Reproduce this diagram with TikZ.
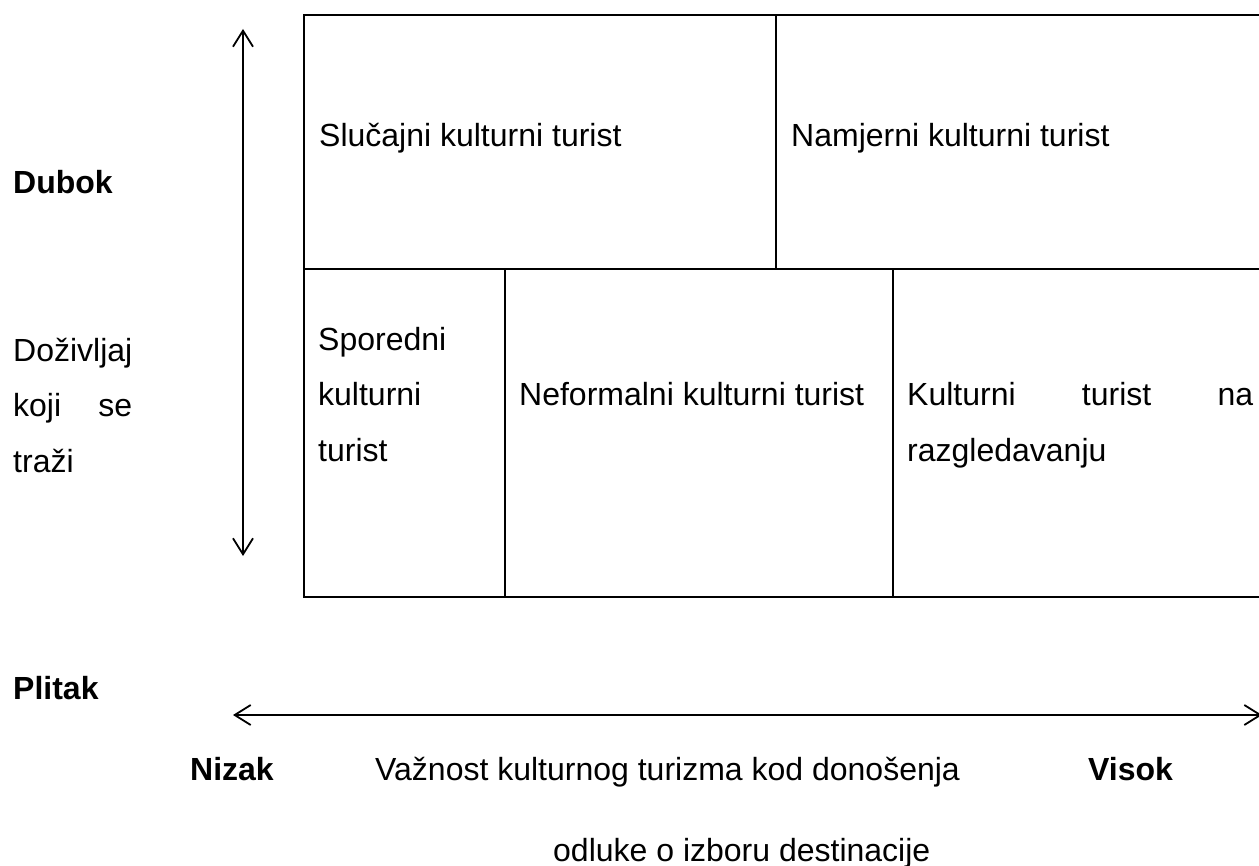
\documentclass[tikz,border=0pt]{standalone}
\usepackage{fontspec}
\setmainfont{Liberation Sans}
\usetikzlibrary{arrows.meta}
\begin{document}
\begin{tikzpicture}[x=1pt,y=-1pt,
  lbl/.style={anchor=base west,inner sep=0pt,font=\fontsize{32}{40}\selectfont},
  blbl/.style={lbl,font=\fontsize{32}{40}\selectfont\bfseries},
  grid/.style={line width=1.9pt,line cap=rect},
  axis/.style={line width=1.8pt,{Straight Barb[length=16pt,width=20pt,line width=1.8pt]}-{Straight Barb[length=16pt,width=20pt,line width=1.8pt]}}]
\useasboundingbox (0,0) rectangle (1259,866);
\clip (0,0) rectangle (1259,866);
% table
\coordinate (tl) at (304,15);
\coordinate (tr) at (1275,15);
\coordinate (ml) at (304,269);
\coordinate (mr) at (1275,269);
\coordinate (bl) at (304,597);
\coordinate (br) at (1275,597);
\draw[grid] (tr) -- (tl) -- (bl) -- (br);
\draw[grid] (ml) -- (mr);
\coordinate (d1t) at (776,15);
\coordinate (d1b) at (776,269);
\coordinate (d2t) at (505,269);
\coordinate (d2b) at (505,597);
\coordinate (d3t) at (893,269);
\coordinate (d3b) at (893,597);
\draw[grid] (d1t) -- (d1b);
\draw[grid] (d2t) -- (d2b);
\draw[grid] (d3t) -- (d3b);
% cell texts
\node[lbl] (slu) at (319,147) {Slučajni kulturni turist};
\node[lbl] (nam) at (791,147) {Namjerni kulturni turist};
\node[lbl] (sp1) at (318,351) {Sporedni};
\node[lbl] (sp2) at (318,406) {kulturni};
\node[lbl] (sp3) at (318,462) {turist};
\node[lbl] (nef) at (519,406) {Neformalni kulturni turist};
\node[lbl] (kt1) at (907,406) {\hbox to 346pt{Kulturni\hfill turist\hfill na}};
\node[lbl] (kt2) at (907,462) {razgledavanju};
% left labels
\node[blbl] (dub) at (13,194) {Dubok};
\node[lbl] (doz1) at (13,362) {Doživljaj};
\node[lbl] (doz2) at (13,417) {\hbox to 119pt{koji\hfill se}};
\node[lbl] (doz3) at (13,472) {traži};
\node[blbl] (pli) at (13,699) {Plitak};
% arrows
\coordinate (vt) at (243,29);
\coordinate (vb) at (243,556);
\draw[axis] (vb) -- (vt);
\coordinate (hl) at (233,715);
\coordinate (hr) at (1262,715);
\draw[axis] (hr) -- (hl);
% bottom labels
\node[blbl] (niz) at (190,780) {Nizak};
\node[lbl] (vaz) at (375,780) {Važnost kulturnog turizma kod donošenja};
\node[blbl] (vis) at (1088,780) {Visok};
\node[lbl] (odl) at (553,861) {odluke o izboru destinacije};
\end{tikzpicture}
\end{document}
